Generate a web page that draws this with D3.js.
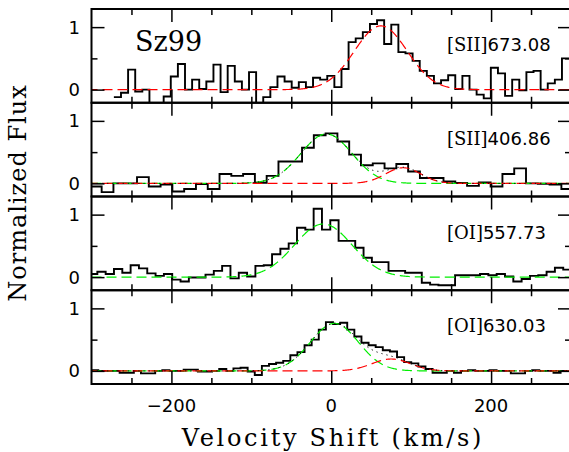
<!DOCTYPE html>
<html>
<head>
<meta charset="utf-8">
<script src="https://cdn.jsdelivr.net/npm/d3@7"></script>
<style>
  body { margin: 0; background: #fff; }
</style>
</head>
<body>
<div id="chart"></div>
<script>
// Line identifiers, one per panel (top to bottom)
var lineNames = ["[SII]", "[SII]", "[OI]", "[OI]"];
var lineWaves = ["673.08", "406.86", "557.73", "630.03"];

// Velocity of the first bin edge and bin width (km/s) for each spectrum
var binStart = [-272, -302.05, -303.1, -300.4];
var binWidth = [8.9, 14.75, 10.41, 8.9];

// Normalized flux per bin
var fluxSII673 = [-0.12, -0.05, 0.32, -0.03, 0.0, -0.3, -0.3, -0.11, 0.21, 0.41,
  0.0, 0.16, 0.01, 0.13, 0.40, -0.04, 0.38, 0.13, 0.0, 0.28,
  -0.3, -0.12, 0.04, 0.21, 0.13, 0.03, 0.12, 0.04, 0.19, 0.16,
  0.22, 0.04, 0.33, 0.76, 0.82, 0.92, 1.05, 1.11, 0.73, 1.04,
  0.60, 0.58, 0.46, 0.30, 0.22, 0.10, 0.15, 0.23, 0.01, 0.22,
  0.0, -0.08, -0.14, 0.35, 0.26, -0.10, 0.16, -0.01, 0.28, 0.30,
  0.0, 0.10, 0.16, 0.50, 0.50];
var fluxSII406 = [-0.05, -0.14, 0.0, 0.0, 0.10, -0.05, -0.02, -0.13, -0.09, -0.01,
  -0.09, 0.15, 0.12, 0.15, 0.01, 0.12, 0.35, 0.35, 0.57, 0.77,
  0.80, 0.67, 0.46, 0.29, 0.32, 0.24, 0.31, 0.19, 0.085, 0.085,
  0.03, 0.005, -0.04, 0.015, -0.05, 0.15, 0.24, 0.0, -0.005, -0.02, -0.09];
var fluxOI557 = [0.05, 0.085, 0.05, 0.13, 0.07, 0.19, 0.14, 0.06, 0.02, 0.05,
  -0.04, -0.07, -0.005, -0.005, 0.04, 0.10, 0.18, -0.02, 0.07, 0.01,
  0.18, 0.19, 0.365, 0.455, 0.54, 0.79, 0.76, 1.095, 0.76, 0.91,
  0.58, 0.58, 0.47, 0.31, 0.24, 0.24, 0.10, 0.10, 0.07, 0.07,
  -0.09, -0.12, -0.13, -0.13, 0.03, 0.03, 0.03, 0.05, 0.03, 0.05,
  0.01, -0.07, -0.03, 0.02, 0.03, 0.085, 0.15, 0.12];
var fluxOI630 = [0.01, 0.0, 0.0, 0.0, -0.03, -0.03, 0.0, -0.04, -0.04, 0.0,
  0.01, 0.0, 0.0, 0.02, 0.02, -0.01, -0.01, 0.0, 0.03, 0.0,
  0.04, 0.05, -0.01, -0.065, 0.08, 0.11, 0.13, 0.16, 0.25, 0.30,
  0.41, 0.50, 0.66, 0.78, 0.75, 0.77, 0.66, 0.55, 0.45, 0.41,
  0.38, 0.33, 0.31, 0.22, 0.14, 0.12, 0.07, 0.03, -0.03, -0.03,
  0.0, -0.03, 0.0, 0.01, 0.0, 0.0, 0.01, 0.0, 0.0, -0.04,
  -0.04, 0.0, 0.01, 0.0, 0.0, -0.03, 0.0, 0.0];
var fluxes = [fluxSII673, fluxSII406, fluxOI557, fluxOI630];

// Gaussian fit components (amplitude, centre km/s, sigma km/s)
var redFits = [{amp: 1.02, mu: 62, sig: 33}, {amp: 0.25, mu: 90, sig: 22}, null, {amp: 0.19, mu: 75, sig: 24}];
var greenFits = [null, {amp: 0.79, mu: -6, sig: 32}, {amp: 0.85, mu: -10, sig: 36}, {amp: 0.76, mu: 4, sig: 30}];
var showSum = [false, true, false, true];

var xMajor = [-200, 0, 200],
    xMinor = [-250, -150, -100, -50, 50, 100, 150, 250],
    yMajor = [0, 1],
    yMinor = [0.5];

// Dimensions
var W = 569, H = 452;
var margin = {left: 91.5, right: 571, top: 9, bottom: 384};
var nPanels = 4, panelH = (margin.bottom - margin.top) / nPanels;

var svg = d3.select("#chart").append("svg")
    .attr("width", W)
    .attr("height", H);

var x = d3.scaleLinear().domain([-300, 300]).range([margin.left, margin.right]);

function gauss(p, v) {
    return p ? p.amp * Math.exp(-0.5 * Math.pow((v - p.mu) / p.sig, 2)) : 0;
}

var vGrid = d3.range(-300, 300.5, 1);

for (var i = 0; i < nPanels; i++) {
    var y0 = margin.top + i * panelH;
    var y = d3.scaleLinear().domain([-0.21, 1.29]).range([y0 + panelH, y0]);
    var g = svg.append("g");

    g.append("clipPath").attr("id", "clip" + i)
      .append("rect")
        .attr("x", margin.left).attr("y", y0)
        .attr("width", margin.right - margin.left).attr("height", panelH);

    var plot = g.append("g").attr("clip-path", "url(#clip" + i + ")");

    // Step histogram
    var pts = fluxes[i].map(function(f, k) { return [binStart[i] + k * binWidth[i], f]; });
    var last = fluxes[i].length;
    pts.push([binStart[i] + last * binWidth[i], fluxes[i][last - 1]]);
    plot.append("path")
        .datum(pts)
        .attr("fill", "none")
        .attr("stroke", "#000")
        .attr("stroke-width", 1.9)
        .attr("d", d3.line().x(d => x(d[0])).y(d => y(d[1])).curve(d3.curveStepAfter));

    var curve = d3.line().x(d => x(d[0])).y(d => y(d[1]));
    if (greenFits[i]) {
        plot.append("path")
            .datum(vGrid.map(v => [v, gauss(greenFits[i], v)]))
            .attr("fill", "none").attr("stroke", "#00ee00").attr("stroke-width", 1.2)
            .attr("stroke-dasharray", "10,5")
            .attr("d", curve);
    }
    if (redFits[i]) {
        plot.append("path")
            .datum(vGrid.map(v => [v, gauss(redFits[i], v)]))
            .attr("fill", "none").attr("stroke", "#ff0000").attr("stroke-width", 1.2)
            .attr("stroke-dasharray", "10,5")
            .attr("stroke-dashoffset", 4)
            .attr("d", curve);
    }
    if (showSum[i]) {
        plot.append("path")
            .datum(vGrid.map(v => [v, gauss(redFits[i], v) + gauss(greenFits[i], v)]))
            .attr("fill", "none").attr("stroke", "#000").attr("stroke-width", 1)
            .attr("stroke-dasharray", "1.2,4")
            .attr("d", curve);
    }

    // Ticks (inward, all four sides)
    var axes = [
        [d3.axisBottom(x).tickValues(xMajor).tickSize(-13), "translate(0," + (y0 + panelH) + ")"],
        [d3.axisBottom(x).tickValues(xMinor).tickSize(-6), "translate(0," + (y0 + panelH) + ")"],
        [d3.axisTop(x).tickValues(xMajor).tickSize(-13), "translate(0," + y0 + ")"],
        [d3.axisTop(x).tickValues(xMinor).tickSize(-6), "translate(0," + y0 + ")"],
        [d3.axisLeft(y).tickValues(yMajor).tickSize(-13), "translate(" + margin.left + ",0)"],
        [d3.axisLeft(y).tickValues(yMinor).tickSize(-6), "translate(" + margin.left + ",0)"],
        [d3.axisRight(y).tickValues(yMajor).tickSize(-13), "translate(" + margin.right + ",0)"],
        [d3.axisRight(y).tickValues(yMinor).tickSize(-6), "translate(" + margin.right + ",0)"]
    ];
    axes.forEach(function(a) {
        var ag = g.append("g").attr("transform", a[1]).call(a[0].tickFormat(""));
        ag.select(".domain").remove();
        ag.selectAll("line").attr("stroke", "#000").attr("stroke-width", 1.5);
    });

    // Y tick labels
    g.selectAll(".ylab")
        .data(yMajor)
        .enter().append("text")
        .attr("x", 80)
        .attr("y", d => y(d))
        .attr("dy", "0.36em")
        .attr("text-anchor", "end")
        .style("font-family", "DejaVu Sans")
        .style("font-size", "18px")
        .text(d => d);

    // Frame
    g.append("rect")
        .attr("x", margin.left).attr("y", y0)
        .attr("width", margin.right - margin.left).attr("height", panelH)
        .attr("fill", "none").attr("stroke", "#000").attr("stroke-width", 2);

    // Line label
    var lab = g.append("text")
        .attr("x", 447)
        .attr("y", y0 + 42)
        .style("font-size", "18px");
    lab.append("tspan").style("font-family", "DejaVu Serif").text(lineNames[i]);
    lab.append("tspan").style("font-family", "DejaVu Sans").text(lineWaves[i]);
}

// Star name
svg.append("text")
    .attr("x", 135).attr("y", 51)
    .style("font-family", "DejaVu Serif")
    .style("font-size", "27px")
    .text("Sz99");

// X tick labels
svg.selectAll(".xlab")
    .data(xMajor)
    .enter().append("text")
    .attr("x", d => x(d))
    .attr("y", 412)
    .attr("text-anchor", "middle")
    .style("font-family", "DejaVu Sans")
    .style("font-size", "18px")
    .text(d => d < 0 ? "\u2212" + Math.abs(d) : d);

// Axis titles
svg.append("text")
    .attr("x", 333).attr("y", 446)
    .attr("text-anchor", "middle")
    .style("font-family", "DejaVu Serif")
    .style("font-size", "24px")
    .style("letter-spacing", "2.7px")
    .text("Velocity Shift (km/s)");

svg.append("text")
    .attr("transform", "translate(26,193) rotate(-90)")
    .attr("text-anchor", "middle")
    .style("font-family", "DejaVu Serif")
    .style("font-size", "24px")
    .style("letter-spacing", "1px")
    .text("Normalized Flux");
</script>
</body>
</html>
